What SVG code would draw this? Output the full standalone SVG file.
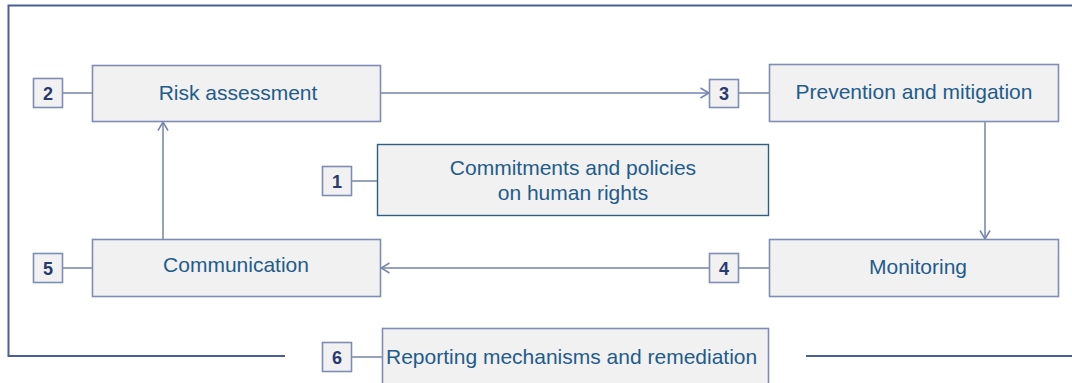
<svg xmlns="http://www.w3.org/2000/svg" width="1072" height="383" viewBox="0 0 1072 383">
<defs>
<marker id="arr" viewBox="0 0 10 12" refX="9.5" refY="6" markerWidth="10" markerHeight="12" markerUnits="userSpaceOnUse" orient="auto">
<path d="M1,1 L9.5,6 L1,11" fill="none" stroke="#7483ad" stroke-width="1.5"/>
</marker>
<style>
.box{fill:#f1f1f1;stroke:#7f8db5;stroke-width:1.6}
.cbox{fill:#f1f1f1;stroke:#2f5f80;stroke-width:1.4}
.badge{fill:#f1f1f1;stroke:#7f8db5;stroke-width:1.6}
.lbl{font-family:"Liberation Sans",Arial,sans-serif;font-size:21px;fill:#1f5c8c;text-anchor:middle}
.num{font-family:"Liberation Sans",Arial,sans-serif;font-size:18px;font-weight:bold;fill:#2a3a6e;text-anchor:middle}
.conn{fill:none;stroke:#7483ad;stroke-width:1.5}
.frame{fill:none;stroke:#4a5f98;stroke-width:2}
</style>
</defs>
<rect width="1072" height="383" fill="#ffffff"/>
<path class="frame" d="M1072,5.5 H8.5 V356 H285"/>
<path class="frame" d="M806,356 H1072"/>
<g id="connectors">
<line class="conn" x1="62" y1="93" x2="92" y2="93"/>
<line class="conn" x1="381" y1="93" x2="709" y2="93" marker-end="url(#arr)"/>
<line class="conn" x1="739" y1="93" x2="769" y2="93"/>
<line class="conn" x1="985" y1="122" x2="985" y2="239" marker-end="url(#arr)"/>
<line class="conn" x1="739" y1="268" x2="769" y2="268"/>
<line class="conn" x1="709" y1="268" x2="381" y2="268" marker-end="url(#arr)"/>
<line class="conn" x1="62" y1="268" x2="92" y2="268"/>
<line class="conn" x1="163" y1="239" x2="163" y2="122" marker-end="url(#arr)"/>
<line class="conn" x1="352" y1="181" x2="377" y2="181"/>
<line class="conn" x1="352" y1="357" x2="382" y2="357"/>
</g>
<g id="node1">
<rect class="cbox" x="377.5" y="144.5" width="391" height="71"/>
<text class="lbl" x="573" y="175">Commitments and policies</text>
<text class="lbl" x="573" y="200">on human rights</text>
<rect class="badge" x="322.5" y="166.5" width="29" height="29"/>
<text class="num" x="337" y="187.5">1</text>
</g>
<g id="node2">
<rect class="box" x="92.5" y="65.5" width="288" height="56"/>
<text class="lbl" x="238" y="99.5">Risk assessment</text>
<rect class="badge" x="33.5" y="78.5" width="29" height="29"/>
<text class="num" x="48" y="99.5">2</text>
</g>
<g id="node3">
<rect class="box" x="769.5" y="64.5" width="289" height="57"/>
<text class="lbl" x="914" y="99">Prevention and mitigation</text>
<rect class="badge" x="709.5" y="79.5" width="29" height="28"/>
<text class="num" x="724" y="100">3</text>
</g>
<g id="node4">
<rect class="box" x="769.5" y="239.5" width="289" height="57"/>
<text class="lbl" x="918" y="273.5">Monitoring</text>
<rect class="badge" x="709.5" y="253.5" width="29" height="29"/>
<text class="num" x="724" y="274.5">4</text>
</g>
<g id="node5">
<rect class="box" x="92.5" y="239.5" width="288" height="57"/>
<text class="lbl" x="236" y="271.5">Communication</text>
<rect class="badge" x="33.5" y="253.5" width="29" height="29"/>
<text class="num" x="48" y="274.5">5</text>
</g>
<g id="node6">
<rect class="box" x="382.5" y="328.5" width="386" height="60"/>
<text class="lbl" x="386" y="363.5" style="text-anchor:start">Reporting mechanisms and remediation</text>
<rect class="badge" x="322.5" y="342.5" width="29" height="29"/>
<text class="num" x="337" y="363.5">6</text>
</g>
</svg>
